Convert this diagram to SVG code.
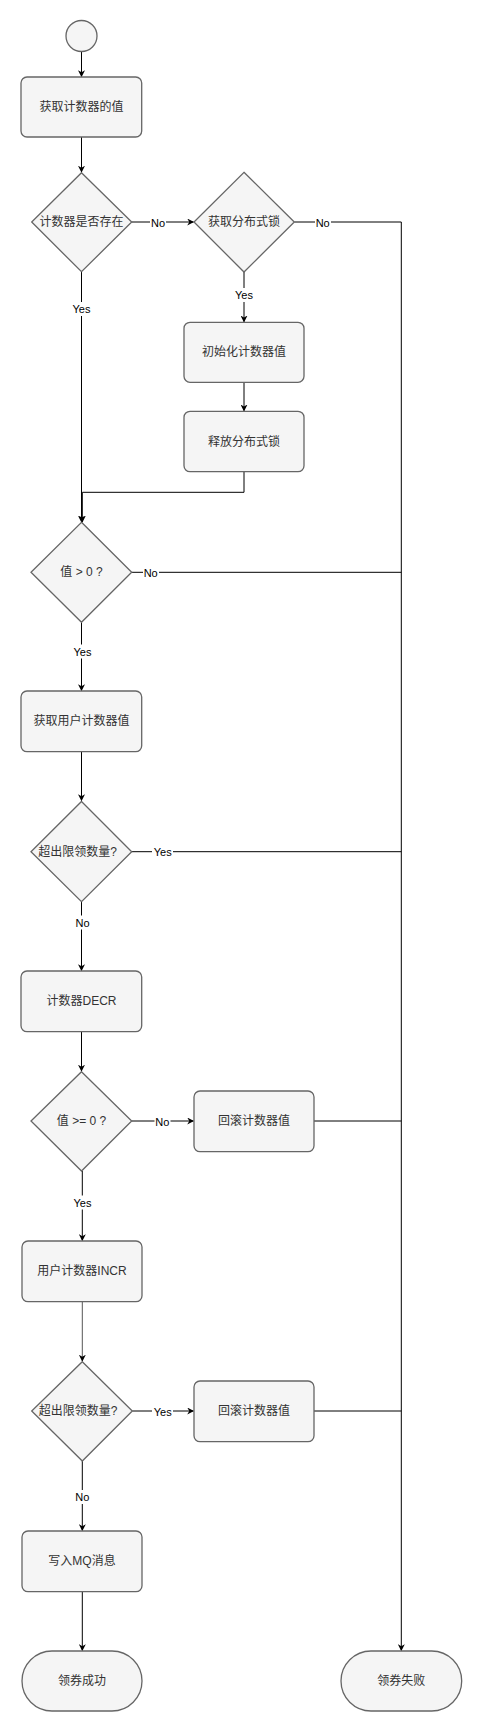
<svg xmlns="http://www.w3.org/2000/svg" width="482" height="1732" viewBox="0 0 482 1732">
<style>
.n{fill:#f5f5f5;stroke:#666666;stroke-width:1.3}
.t{font-family:"Liberation Sans","Noto Sans CJK SC",sans-serif;font-size:12px;fill:#333333;text-anchor:middle;dominant-baseline:central}
.e{fill:none;stroke:#000000;stroke-width:1}
.a{marker-end:url(#arr)}
.lb{fill:#ffffff}
.l{font-family:"Liberation Sans","Noto Sans CJK SC",sans-serif;font-size:11px;fill:#000000;text-anchor:middle;dominant-baseline:central}
</style>
<defs>
<marker id="arr" viewBox="0 0 10 10" refX="9" refY="5" markerWidth="7" markerHeight="7" markerUnits="userSpaceOnUse" orient="auto">
<path d="M0,0 L10,5 L0,10 L3,5 Z" fill="#000000"/>
</marker>
</defs>
<rect width="482" height="1732" fill="#ffffff"/>
<g id="edges">
<path class="e a" d="M81.5,51.7 L81.5,76.5"/>
<path class="e a" d="M81.5,137 L81.5,172"/>
<path class="e a" d="M131.7,222 L193.5,222"/>
<path class="e" d="M294.3,222 L401.3,222 L401.3,1200"/>
<path class="e a" d="M401.3,1200 L401.3,1650.5"/>
<path class="e a" d="M81.5,272 L81.5,522"/>
<path class="e a" d="M244,272 L244,321.8"/>
<path class="e a" d="M244,382.3 L244,410.8"/>
<path class="e a" d="M244,471.7 L244,492.3 L82.3,492.3 L82.3,522"/>
<path class="e" d="M131.7,572.3 L401.3,572.3"/>
<path class="e a" d="M81.5,622.3 L81.5,690.5"/>
<path class="e a" d="M81.5,751.7 L81.5,800.5"/>
<path class="e" d="M131.7,851.7 L401.3,851.7"/>
<path class="e a" d="M81.5,901.7 L81.5,970.5"/>
<path class="e a" d="M81.5,1031.7 L81.5,1071"/>
<path class="e a" d="M131.7,1121 L193.5,1121"/>
<path class="e" d="M314,1121 L401.3,1121"/>
<path class="e a" d="M82.3,1171 L82.3,1240.5"/>
<path class="e a" d="M82.3,1301.7 L82.3,1361" style="stroke:#555555"/>
<path class="e a" d="M132.3,1411 L193.5,1411"/>
<path class="e" d="M314,1411 L401.3,1411"/>
<path class="e a" d="M82.3,1461 L82.3,1530.5"/>
<path class="e a" d="M82.3,1591.7 L82.3,1650.5"/>
<g id="edge-labels">
<rect class="lb" x="150" y="215" width="16" height="14"/><text class="l" x="158" y="222.5">No</text>
<rect class="lb" x="315" y="215" width="16" height="14"/><text class="l" x="322.7" y="222.5">No</text>
<rect class="lb" x="71" y="302" width="21" height="14"/><text class="l" x="81.5" y="309.3">Yes</text>
<rect class="lb" x="233.5" y="288" width="21" height="14"/><text class="l" x="244" y="295.3">Yes</text>
<rect class="lb" x="143" y="565" width="16" height="14"/><text class="l" x="150.7" y="572.8">No</text>
<rect class="lb" x="72" y="644.5" width="21" height="14"/><text class="l" x="82.5" y="651.7">Yes</text>
<rect class="lb" x="152" y="844.5" width="21" height="14"/><text class="l" x="162.7" y="852.2">Yes</text>
<rect class="lb" x="74.5" y="915.5" width="16" height="14"/><text class="l" x="82.5" y="922.7">No</text>
<rect class="lb" x="154.5" y="1114" width="16" height="14"/><text class="l" x="162.3" y="1121.5">No</text>
<rect class="lb" x="72" y="1195.5" width="21" height="14"/><text class="l" x="82.5" y="1202.7">Yes</text>
<rect class="lb" x="152" y="1404" width="21" height="14"/><text class="l" x="162.7" y="1411.5">Yes</text>
<rect class="lb" x="74.5" y="1490" width="16" height="14"/><text class="l" x="82.3" y="1497.3">No</text>
</g>
</g>
<g id="start"><circle class="n" cx="81.5" cy="36" r="15.5"/></g>
<g id="get-counter"><rect class="n" x="21" y="77" width="120.7" height="60" rx="6"/><text class="t" x="81.5" y="107">获取计数器的值</text></g>
<g id="counter-exists"><path class="n" d="M81.5,172.7 L131.7,222 L81.5,271.7 L31.7,222 Z"/><text class="t" x="81.5" y="222">计数器是否存在</text></g>
<g id="get-lock"><path class="n" d="M244,172.3 L294.3,222 L244,272 L194,222 Z"/><text class="t" x="244" y="222">获取分布式锁</text></g>
<g id="init-counter"><rect class="n" x="184" y="322.3" width="120" height="60" rx="6"/><text class="t" x="244" y="352.3">初始化计数器值</text></g>
<g id="release-lock"><rect class="n" x="184" y="411.3" width="120" height="60.4" rx="6"/><text class="t" x="244" y="441.5">释放分布式锁</text></g>
<g id="value-gt-0"><path class="n" d="M81.5,522.3 L131.7,572.3 L81.5,622.3 L31,572.3 Z"/><text class="t" x="81.5" y="572.3">值 &gt; 0 ?</text></g>
<g id="get-user-counter"><rect class="n" x="21" y="691" width="120.7" height="60.7" rx="6"/><text class="t" x="81.5" y="721.3">获取用户计数器值</text></g>
<g id="over-limit-1"><path class="n" d="M81.5,801.5 L131.7,851.7 L81.5,901.7 L31,851.7 Z"/><text class="t" x="77.5" y="851.7">超出限领数量?</text></g>
<g id="counter-decr"><rect class="n" x="21" y="971" width="120.7" height="60.7" rx="6"/><text class="t" x="81.5" y="1001.3">计数器DECR</text></g>
<g id="value-ge-0"><path class="n" d="M81.5,1071.7 L131.7,1121 L81.5,1171 L31,1121 Z"/><text class="t" x="81.5" y="1121">值 &gt;= 0 ?</text></g>
<g id="rollback-1"><rect class="n" x="194" y="1091" width="120" height="60.7" rx="6"/><text class="t" x="254" y="1121.3">回滚计数器值</text></g>
<g id="user-counter-incr"><rect class="n" x="22" y="1241" width="120" height="60.7" rx="6"/><text class="t" x="82" y="1271.3">用户计数器INCR</text></g>
<g id="over-limit-2"><path class="n" d="M82.3,1361.7 L132.3,1411 L82.3,1461 L31.7,1411 Z"/><text class="t" x="78" y="1411">超出限领数量?</text></g>
<g id="rollback-2"><rect class="n" x="194" y="1381" width="120" height="60.7" rx="6"/><text class="t" x="254" y="1411.3">回滚计数器值</text></g>
<g id="write-mq"><rect class="n" x="22" y="1531" width="120" height="60.7" rx="6"/><text class="t" x="82" y="1561.3">写入MQ消息</text></g>
<g id="success"><rect class="n" x="22" y="1651" width="120" height="60" rx="30" ry="30"/><text class="t" x="82" y="1681">领券成功</text></g>
<g id="fail"><rect class="n" x="341" y="1651" width="120.7" height="60" rx="30" ry="30"/><text class="t" x="401.3" y="1681">领券失败</text></g>
</svg>
